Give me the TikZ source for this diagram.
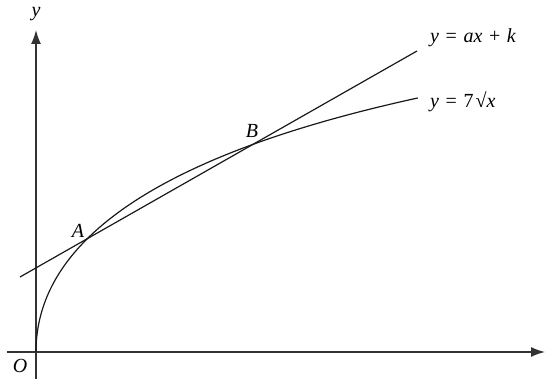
\documentclass[tikz,border=0pt]{standalone}
\usepackage{fontspec}
\setmainfont{Liberation Serif}
\usetikzlibrary{arrows.meta}
\newcommand{\gap}{\hspace{0.33em}}
\tikzset{
  axisline/.style={-{Latex[length=14pt,width=10pt]},line width=1.5pt,color=black!80},
  graphline/.style={line width=1.2pt,color=black!90},
  lbl/.style={font=\fontsize{20}{22}\selectfont,inner sep=1pt}
}
\begin{document}
\begin{tikzpicture}[x=1pt,y=1pt]
  \useasboundingbox (-36,-27) rectangle (515,352);
  \coordinate (O) at (0,0);
  \coordinate (xs) at (-29,0);
  \coordinate (xe) at (509,0);
  \coordinate (ys) at (0,-27);
  \coordinate (ye) at (0,322);
  \draw[axisline] (xs) -- (xe);
  \draw[axisline] (ys) -- (ye);
  \node[lbl] (xlab) at (522,1) {\textit{x}};
  \node[lbl] (ylab) at (0,338) {\textit{y}};
  \node[lbl] (olab) at (-16,-14) {\textit{O}};
  % curve and chord
  \draw[graphline] plot[domain=0:19.54,samples=90,variable=\t] ({\t*\t},{17.45*\t-0.2277*\t*\t});
  \coordinate (l1) at (-16,75);
  \coordinate (l2) at (381,301);
  \draw[graphline] (l1) -- (l2);
  \node[lbl] (A) at (42,121) {\textit{A}};
  \node[lbl] (B) at (216,221) {\textit{B}};
  \node[lbl,anchor=west] (linelab) at (393,314) {\textit{y}\gap=\gap\textit{ax}\gap+\gap\textit{k}};
  \node[lbl,anchor=west] (curvelab) at (393,250) {\textit{y}\gap=\gap7\hspace{0.1em}√\textit{x}};
\end{tikzpicture}
\end{document}
